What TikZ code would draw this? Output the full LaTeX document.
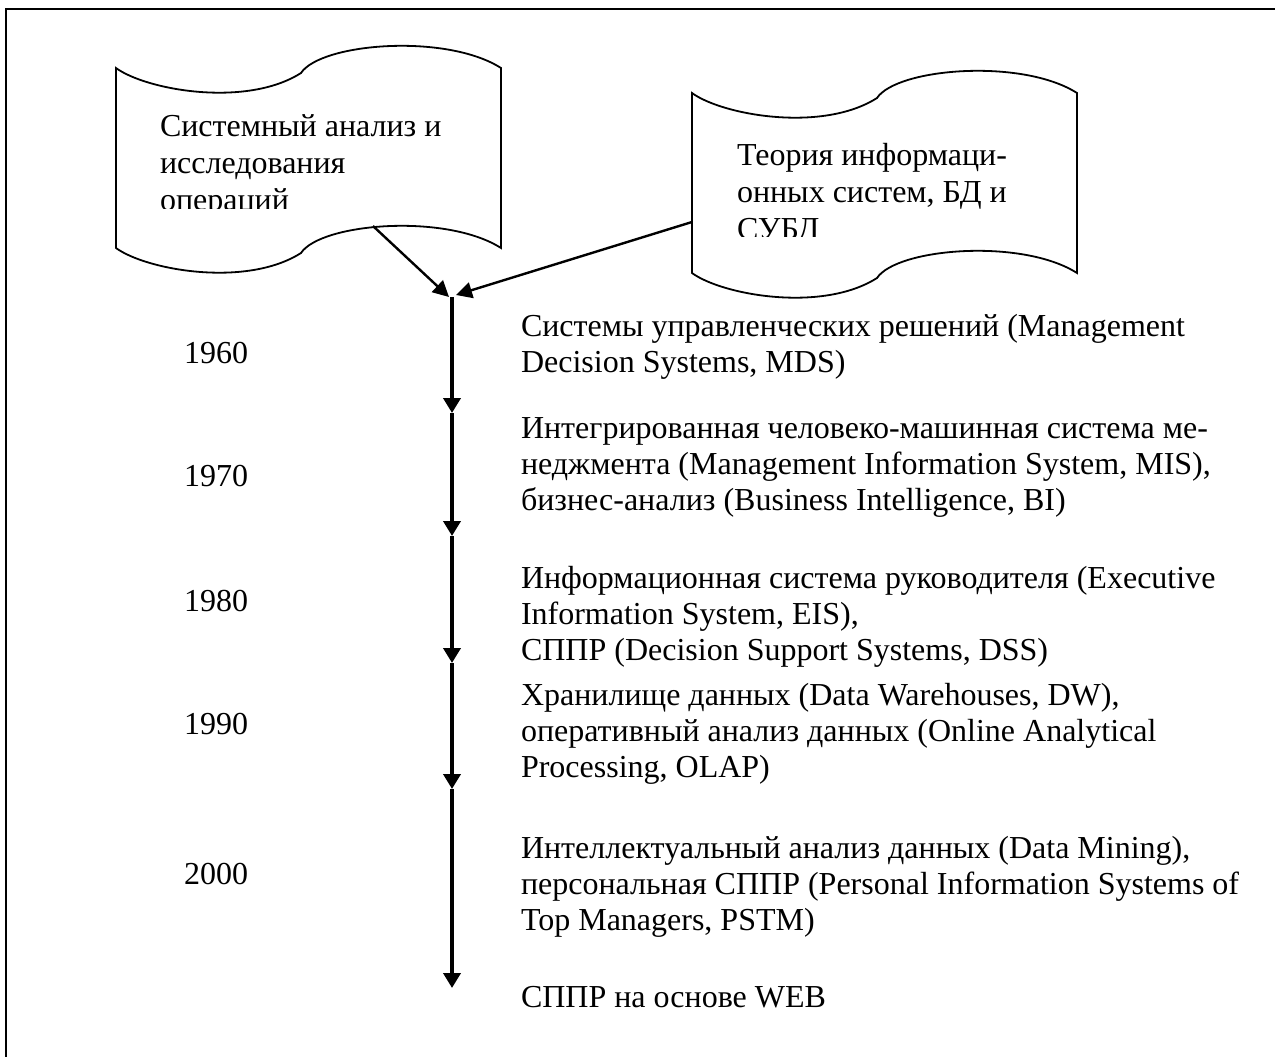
\documentclass[tikz,border=0pt]{standalone}
\usepackage{fontspec}
\setmainfont{Liberation Serif}
\usetikzlibrary{arrows.meta}

% multi-line text whose baseline is that of its first line
\newcommand\txtlines[1]{\begin{tabular}[t]{@{}l@{}}#1\end{tabular}}

\begin{document}
\begin{tikzpicture}[x=1pt,y=-1pt,
  every node/.style={inner sep=0pt, outer sep=0pt},
  body/.style={font=\fontsize{32}{36}\selectfont, anchor=base west},
  tapetext/.style={font=\fontsize{32}{37}\selectfont, anchor=base west},
  yearlbl/.style={font=\fontsize{32}{36}\selectfont, anchor=base},
  tape/.style={draw, line width=1.8pt, fill=white},
  link/.style={line width=2.4pt, -{Triangle[length=16pt,width=16pt]}},
  axis/.style={line width=3.8pt, -{Triangle[length=15pt,width=17pt]}},
]
\useasboundingbox (0,0) rectangle (1275,1057);

% frame
\draw[line width=2.6pt] (6,1070) -- (6,9) -- (1290,9);

% punched-tape source shapes
\newcommand\tapeoutline{%
  (0,0) .. controls (30,22) and (130,40) .. (185,5)
        .. controls (205,-25) and (330,-35) .. (385,0)
  -- (385,180)
        .. controls (330,145) and (205,155) .. (185,185)
        .. controls (130,220) and (30,202) .. (0,180) -- cycle}
\begin{scope}[shift={(116,68)}]
  \draw[tape] \tapeoutline;
\end{scope}
\begin{scope}[shift={(692,93)}]
  \draw[tape] \tapeoutline;
\end{scope}

% texts inside the tapes, cut at the lower text margin
\begin{scope}
  \clip (116,60) rectangle (500,208);
  \node[tapetext] (sa) at (160,136) {\txtlines{Системный анализ и\\исследования\\операций}};
\end{scope}
\begin{scope}
  \clip (692,85) rectangle (1077,236.8);
  \node[tapetext] (ti) at (737,165) {\txtlines{Теория информаци-\\онных систем, БД и\\СУБД}};
\end{scope}

% connector ends
\coordinate (saout) at (373,226);
\coordinate (tiout) at (692,222);
\coordinate (t0) at (452,297);
\coordinate (t0l) at (449,297);
\coordinate (t0r) at (456,295);
\coordinate (t1) at (452,413);
\coordinate (t2) at (452,536);
\coordinate (t3) at (452,663);
\coordinate (t4) at (452,789);
\coordinate (t5) at (452,988);

\draw[link] (saout) -- (t0l);
\draw[link] (tiout) -- (t0r);

% time axis
\draw[axis] (t0) -- (t1);
\draw[axis] (t1) -- (t2);
\draw[axis] (t2) -- (t3);
\draw[axis] (t3) -- (t4);
\draw[axis] (t4) -- (t5);

% years
\node[yearlbl] (y1960) at (216,363) {1960};
\node[yearlbl] (y1970) at (216,486) {1970};
\node[yearlbl] (y1980) at (216,611) {1980};
\node[yearlbl] (y1990) at (216,734) {1990};
\node[yearlbl] (y2000) at (216,884) {2000};

% stages
\node[body] (s1) at (521,336) {\txtlines{Системы управленческих решений (Management\\Decision Systems, MDS)}};
\node[body] (s2) at (521,438) {\txtlines{Интегрированная человеко-машинная система ме-\\неджмента (Management Information System, MIS),\\бизнес-анализ (Business Intelligence, BI)}};
\node[body] (s3) at (521,588) {\txtlines{Информационная система руководителя (Executive\\Information System, EIS),\\СППР (Decision Support Systems, DSS)}};
\node[body] (s4) at (521,705) {\txtlines{Хранилище данных (Data Warehouses, DW),\\оперативный анализ данных (Online Analytical\\Processing, OLAP)}};
\node[body] (s5) at (521,858) {\txtlines{Интеллектуальный анализ данных (Data Mining),\\персональная СППР (Personal Information Systems of\\Top Managers, PSTM)}};
\node[body] (s6) at (521,1007) {СППР на основе WEB};
\end{tikzpicture}
\end{document}
